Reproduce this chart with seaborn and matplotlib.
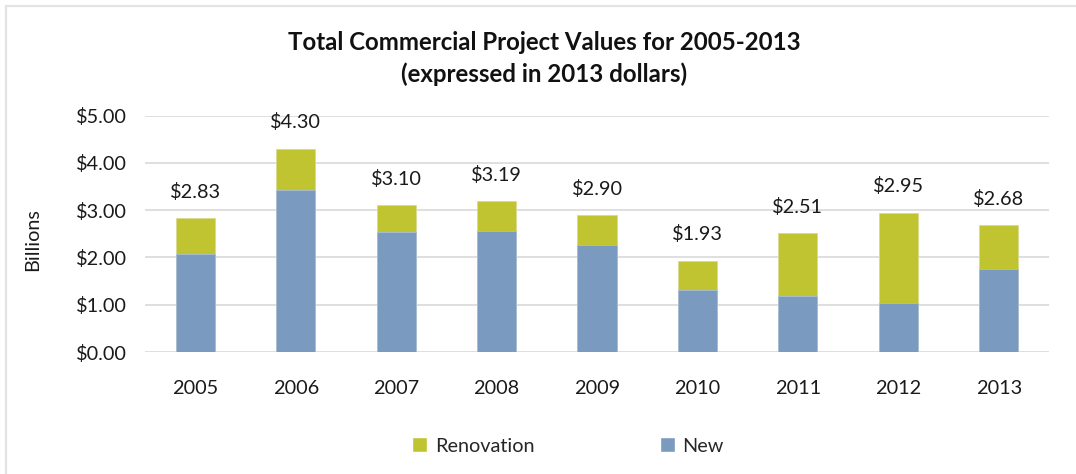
import matplotlib
matplotlib.use("Agg")
import matplotlib.pyplot as plt
import seaborn as sns
import pandas as pd
from matplotlib.patches import Patch
from matplotlib.lines import Line2D

years = ["2005", "2006", "2007", "2008", "2009", "2010", "2011", "2012", "2013"]
new_vals = [2.08, 3.42, 2.53, 2.57, 2.27, 1.31, 1.19, 1.03, 1.76]
renovation_vals = [0.75, 0.88, 0.57, 0.62, 0.63, 0.62, 1.32, 1.92, 0.92]
total_labels = ["$2.83", "$4.30", "$3.10", "$3.19", "$2.90", "$1.93", "$2.51", "$2.95", "$2.68"]
yticks = [0, 1, 2, 3, 4, 5]
ytick_labels = ["$0.00", "$1.00", "$2.00", "$3.00", "$4.00", "$5.00"]

REN_COLOR = "#BFC430"
NEW_COLOR = "#7A9AC0"

sns.set_theme(style="white")
plt.rcParams['font.family'] = ['Lato', 'DejaVu Sans']

df = pd.DataFrame({"year": years, "new": new_vals, "renovation": renovation_vals})
df["total"] = df["new"] + df["renovation"]

fig = plt.figure(figsize=(10.76, 4.74), dpi=100)
ax = fig.add_axes([145/1076, 1-352/474, (1049-145)/1076, (352-115.7)/474])

sns.barplot(data=df, x="year", y="total", color=REN_COLOR, width=0.39, ax=ax,
            saturation=1, edgecolor="#D8DB90", linewidth=0.6, zorder=3)
sns.barplot(data=df, x="year", y="new", color=NEW_COLOR, width=0.39, ax=ax,
            saturation=1, edgecolor="#A9BED8", linewidth=0.6, zorder=4)

for i, (t, lab) in enumerate(zip(df["total"], total_labels)):
    ax.annotate(lab, (i, t), xytext=(0, 19), textcoords="offset points",
                ha="center", va="center", fontsize=14.3, color="#1a1a1a", zorder=5)

ax.set_ylim(0, 5)
ax.set_xlim(-0.5, 8.5)
ax.set_yticks(yticks)
ax.set_yticklabels(ytick_labels, fontsize=14.3, color="#1a1a1a")
ax.tick_params(axis="x", labelsize=14.3, colors="#1a1a1a", pad=20, length=0)
ax.tick_params(axis="y", pad=13, length=0)
ax.set_xlabel("")
ax.set_ylabel("")
ax.yaxis.grid(True, color="#D9D9D9", linewidth=1.2, zorder=0)
ax.set_axisbelow(True)
for s in ax.spines.values():
    s.set_visible(False)

fig.text(33/1076, 1-240/474, "Billions", rotation=90, ha="center", va="center",
         fontsize=14.3, color="#1a1a1a")
fig.text(544/1076, 1-42/474, "Total Commercial Project Values for 2005-2013",
         ha="center", va="center", fontsize=17.3, fontweight="bold", color="#111111")
fig.text(544/1076, 1-74/474, "(expressed in 2013 dollars)",
         ha="center", va="center", fontsize=17.3, fontweight="bold", color="#111111")

handles = [Patch(facecolor=REN_COLOR, label="Renovation"), Patch(facecolor=NEW_COLOR, label="New")]
fig.legend(handles=handles, loc="center", bbox_to_anchor=(568/1076, 1-446/474), ncol=2,
           frameon=False, fontsize=14.3, handlelength=0.75, handleheight=0.75,
           handletextpad=0.4, columnspacing=6.3)

# frame: top and left edges only
fig.add_artist(Line2D([6/1076, 1.0], [1-6/474, 1-6/474], transform=fig.transFigure,
                      color="#E3E3E3", linewidth=1.6))
fig.add_artist(Line2D([6/1076, 6/1076], [0.0, 1-6/474], transform=fig.transFigure,
                      color="#E3E3E3", linewidth=1.6))

fig.savefig("out.png", dpi=100)
